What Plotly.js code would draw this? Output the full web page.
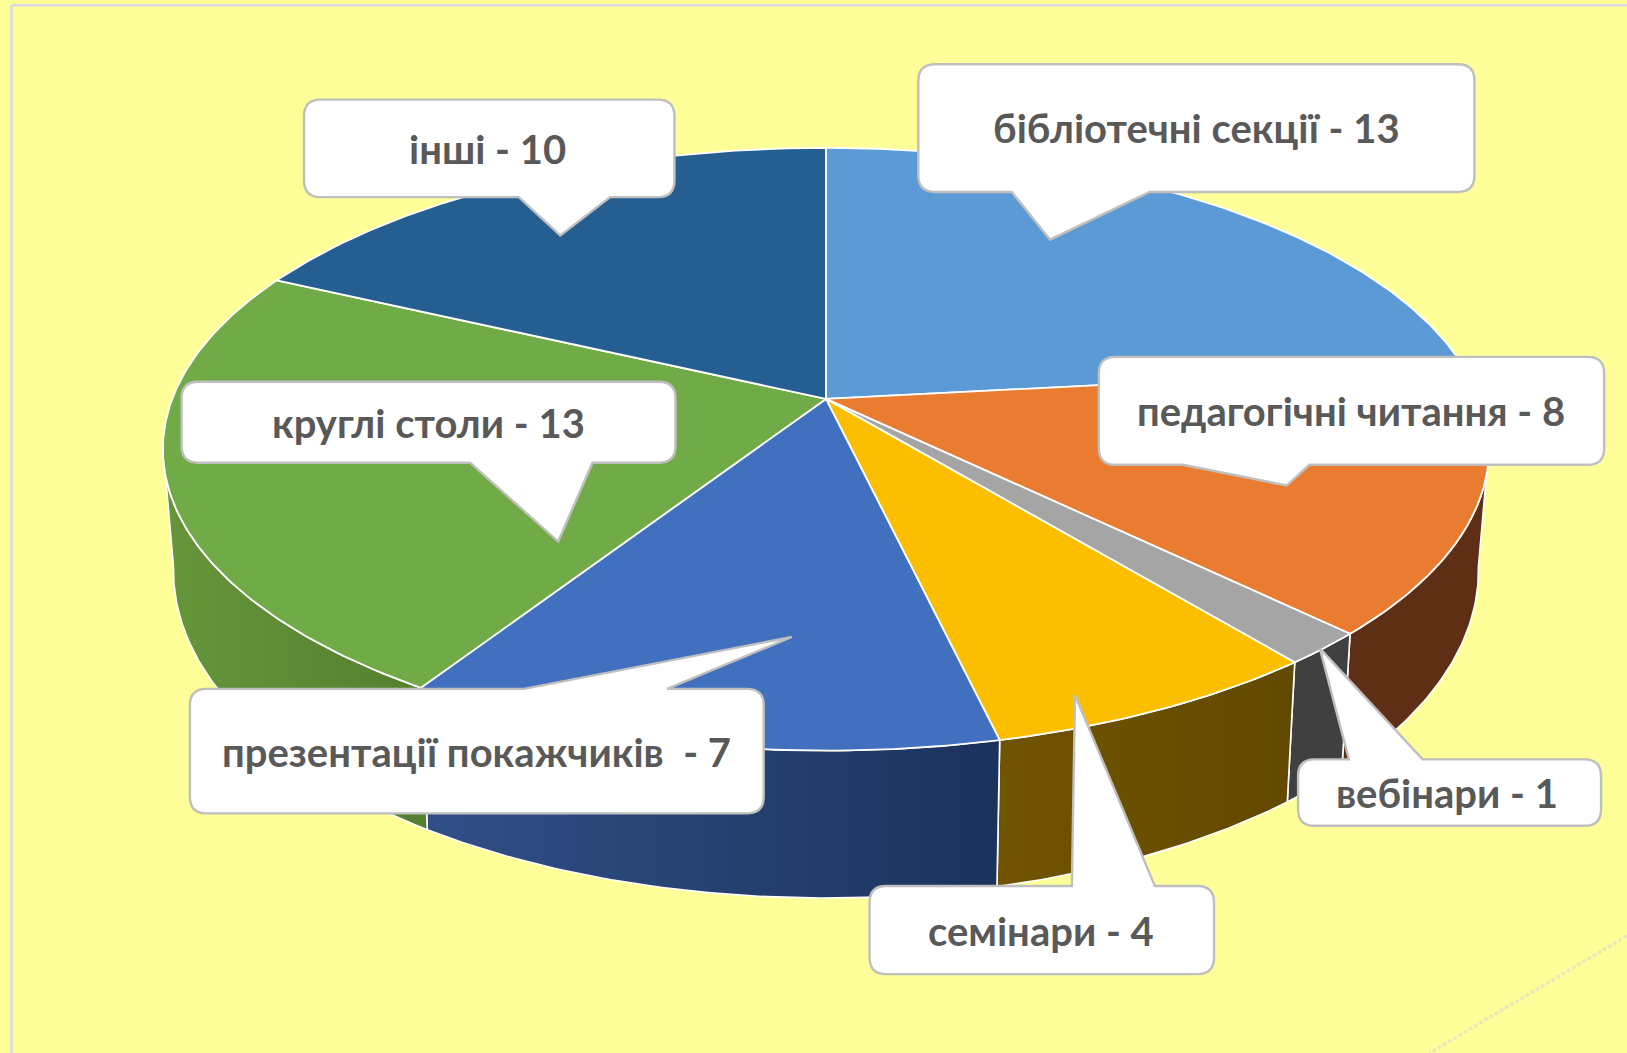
<!DOCTYPE html>
<html><head><meta charset="utf-8">
<script src="https://cdn.plot.ly/plotly-3.0.1.min.js"></script>
<style>html,body{margin:0;padding:0;background:#FFFF99;overflow:hidden}#c{width:1627px;height:1053px}</style>
</head><body><div id="c"></div>
<script>
// Data
const categories = ["бібліотечні секції","педагогічні читання","вебінари","семінари","презентації покажчиків\u00a0","круглі столи","інші"];
const values = [13,8,1,4,7,13,10];
const topColors = ["#5B9AD5","#EA7C31","#A5A5A5","#FCBF00","#4170BF","#70AB47","#255E91"];
const wallStart = ["#5F2F15","#5F2F15","#404040","#715400","#315088","#66963B","#255E91"];
const wallEnd   = ["#5F2F15","#5F2F15","#404040","#624900","#1B325C","#557F30","#255E91"];

// Projection of the pie (drawing units: 1568 x 1015)
const K = 0.167, CX = 796;
const topRim = {A:630, Y0:384.5, B:282.4};
const baseRim = {A:620, Y0:497, B:307};
function project(rim, deg, r){
  r = r === undefined ? 1 : r;
  const t = deg*Math.PI/180, x = r*Math.sin(t), y = r*Math.cos(t), w = 1+K*y;
  return [CX + rim.A*x/w, rim.Y0 - rim.B*y/w];
}
function arc(rim, a, b){
  const n = Math.max(2, Math.ceil(Math.abs(b-a)*1.5)), pts=[];
  for(let i=0;i<=n;i++) pts.push(project(rim, a+(b-a)*i/n));
  return pts;
}
const total = values.reduce((s,v)=>s+v,0);
let cum = 0;
const spans = values.map(v=>{const a=cum/total*360; cum+=v; return [a,cum/total*360];});

const traces = [];
function poly(pts, trace){
  traces.push(Object.assign({type:'scatter',mode:'lines',x:pts.map(p=>p[0]),y:pts.map(p=>p[1]),
    fill:'toself',hoverinfo:'skip',showlegend:false},trace));
}
// Walls: only the front part of the rim is visible
const VIS0 = 99, VIS1 = 261;
spans.forEach(([a,b],i)=>{
  const s = Math.max(a,VIS0), e = Math.min(b,VIS1);
  if(e<=s) return;
  const pts = arc(topRim,s,e).concat(arc(baseRim,e,s)); pts.push(pts[0]);
  const t = {line:{color:'#FFFFFF',width:1.6}};
  if(wallStart[i]===wallEnd[i]) t.fillcolor = wallStart[i];
  else t.fillgradient = {type:'horizontal',colorscale:[[0,wallStart[i]],[1,wallEnd[i]]]};
  poly(pts,t);
});
// Top face
spans.forEach(([a,b],i)=>{
  const apex = project(topRim,0,0);
  const pts = [apex].concat(arc(topRim,a,b)); pts.push(apex);
  poly(pts,{fillcolor:topColors[i],line:{color:'#FFFFFF',width:1.8}});
});

// Callouts: index into categories, box [x0,y0,x1,y1], side, tail base a,b and tip, text centre
const callouts = [
 {i:0,box:[885,62,1421,185],side:'b',t:[975,1108],tip:[1012,231],c:[1153,123]},
 {i:1,box:[1059,344,1546,448],side:'b',t:[1140,1262],tip:[1240,468],c:[1302,396]},
 {i:2,box:[1251,732,1543,796],side:'t',t:[1300,1371],tip:[1272,625],c:[1395,764]},
 {i:3,box:[838,854,1170,939],side:'t',t:[1033,1113],tip:[1036,670],c:[1003,897]},
 {i:4,box:[183,664,736,784],side:'t',t:[505,643],tip:[763,614],c:[459,725]},
 {i:5,box:[175,368,651,446],side:'b',t:[453,571],tip:[538,522],c:[413,408]},
 {i:6,box:[293,96,650,190],side:'b',t:[500,588],tip:[540,227],c:[470,144]}
];
function calloutPath(o){
  const [x0,y0,x1,y1]=o.box, r=16;
  let d=`M${x0+r},${y0}`;
  if(o.side==='t') d+=`L${o.t[0]},${y0}L${o.tip[0]},${o.tip[1]}L${o.t[1]},${y0}`;
  d+=`L${x1-r},${y0}Q${x1},${y0} ${x1},${y0+r}L${x1},${y1-r}Q${x1},${y1} ${x1-r},${y1}`;
  if(o.side==='b') d+=`L${o.t[1]},${y1}L${o.tip[0]},${o.tip[1]}L${o.t[0]},${y1}`;
  d+=`L${x0+r},${y1}Q${x0},${y1} ${x0},${y1-r}L${x0},${y0+r}Q${x0},${y0} ${x0+r},${y0}Z`;
  return d;
}
const shapes = callouts.map(o=>({type:'path',path:calloutPath(o),xref:'x',yref:'y',layer:'above',
  fillcolor:'#FFFFFF',line:{color:'#BFBFBF',width:2.4}}));
// Frame and the faint diagonal mark
shapes.push({type:'line',xref:'x',yref:'y',x0:11,y0:5,x1:1568,y1:5,layer:'below',line:{color:'#D9D9E6',width:2.5}});
shapes.push({type:'line',xref:'x',yref:'y',x0:11,y0:5,x1:11,y1:1015,layer:'below',line:{color:'#D9D9E6',width:2.5}});
shapes.push({type:'line',xref:'x',yref:'y',x0:1568,y0:902,x1:1378,y1:1015,layer:'below',line:{color:'#E8E8B8',width:3.5,dash:'4px,2px'}});

const annotations = callouts.map(o=>({x:o.c[0],y:o.c[1],xref:'x',yref:'y',showarrow:false,
  text:`<b>${categories[o.i]} - ${values[o.i]}</b>`,
  font:{family:'Lato, "Noto Sans", sans-serif',size:40,color:'#595959'}}));

Plotly.newPlot('c',traces,{
  width:1627,height:1053,margin:{l:0,r:0,t:0,b:0},
  paper_bgcolor:'#FFFF99',plot_bgcolor:'#FFFF99',showlegend:false,
  xaxis:{range:[0,1568],visible:false,fixedrange:true},
  yaxis:{range:[1015,0],visible:false,fixedrange:true},
  shapes,annotations
},{displayModeBar:false,staticPlot:true});
</script></body></html>
